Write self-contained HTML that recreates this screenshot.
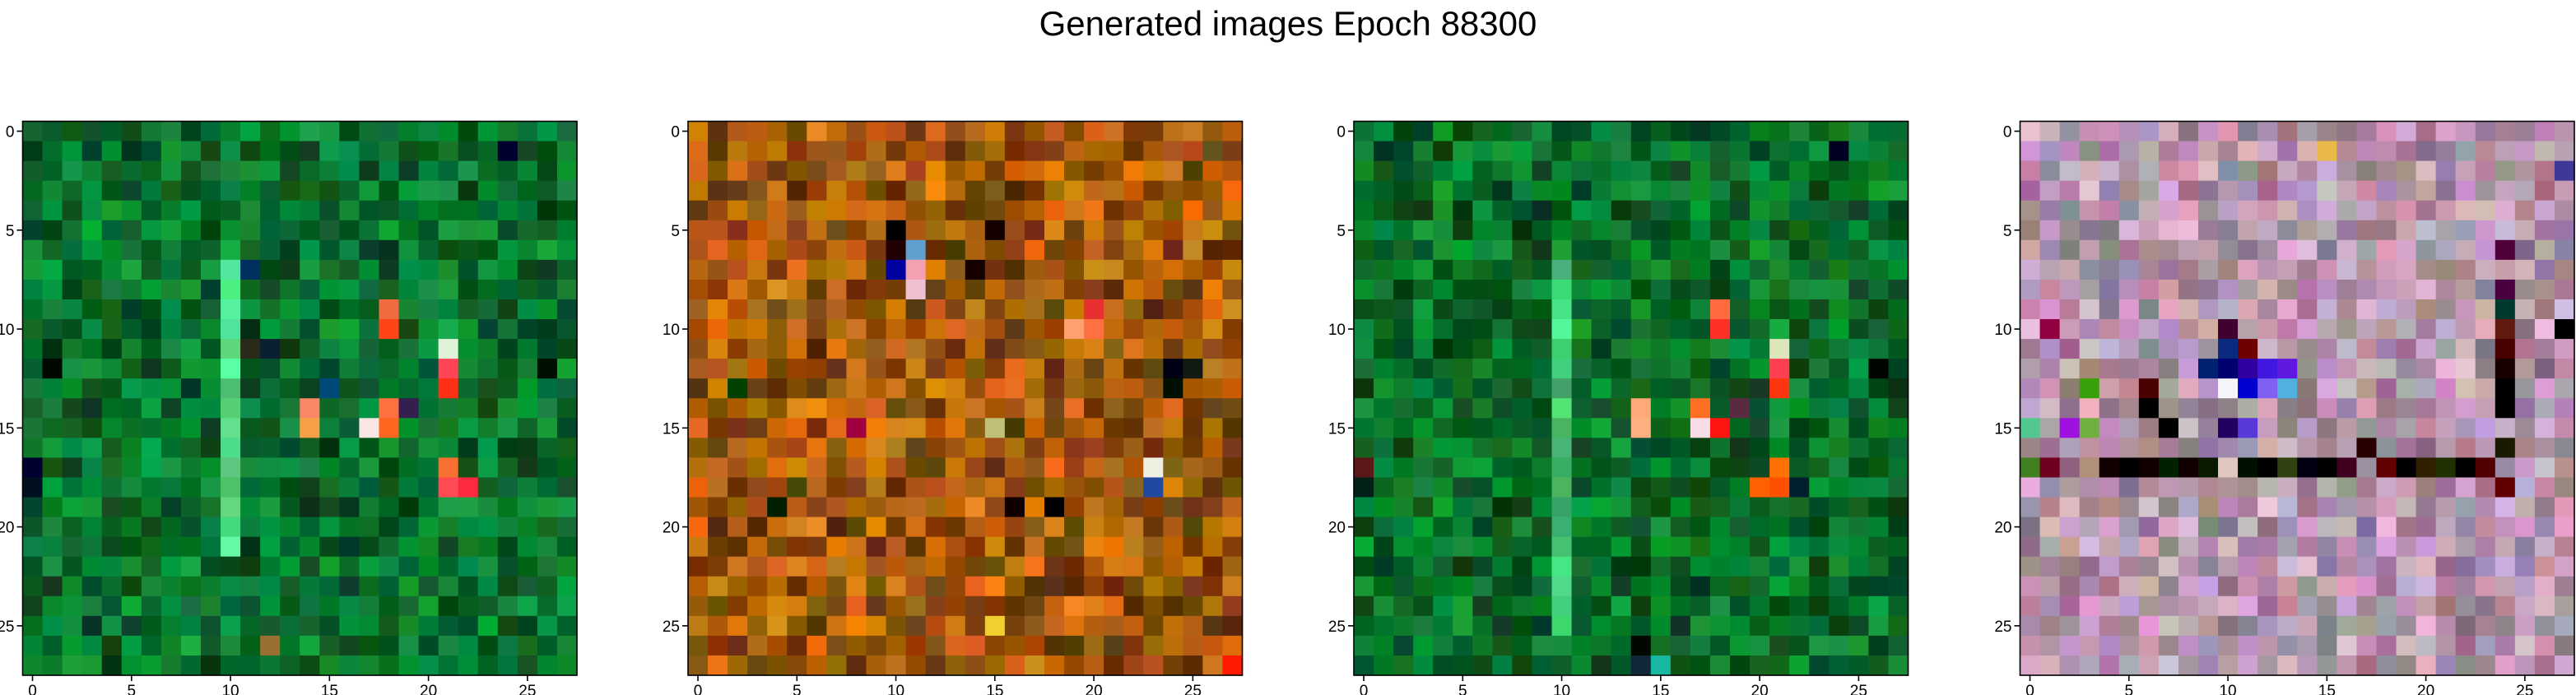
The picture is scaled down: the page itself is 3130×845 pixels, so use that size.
<!DOCTYPE html>
<html><head><meta charset="utf-8">
<style>
html,body{margin:0;padding:0;background:#fff;width:3130px;height:845px;overflow:hidden;}
svg{display:block;font-family:"Liberation Sans","DejaVu Sans",sans-serif;}
</style></head>
<body>
<svg id="chart" width="3130" height="845" viewBox="0 0 3130 845" xmlns="http://www.w3.org/2000/svg">
<text x="1565" y="32" font-size="42" text-anchor="middle" dominant-baseline="middle" fill="#000">Generated images Epoch 88300</text>
</svg>
<script>
// ---- data ----
const gridSize = 28;
const tickValues = [0, 5, 10, 15, 20, 25];
const panelNames = ['image-1', 'image-2', 'image-3', 'image-4'];
const panelBaseColors = [[10, 112, 45], [160, 88, 12], [10, 108, 40], [180, 148, 172]];
const panelVariation = [45, 55, 45, 60];
const stripeColumns = [10, -1, 10, -1];
const stripeBase = [[80, 210, 130], [0, 0, 0], [70, 200, 120], [0, 0, 0]];
const stripeRows = [[7, 21], [0, -1], [7, 25], [0, -1]];
const featureCells1 = [[9,18,'#f26a40'],[10,18,'#ff4515'],[11,21,'#e0f3d8'],[12,21,'#ff4455'],[13,21,'#ff3015'],[14,14,'#f88866'],[14,18,'#ff7040'],[15,14,'#f8a048'],[15,17,'#f8e6e2'],[15,18,'#ff6620'],[17,21,'#f87030'],[18,21,'#ff4a55'],[18,22,'#ff2a40'],[17,0,'#000030'],[18,0,'#001020'],[12,1,'#000800'],[1,24,'#000030'],[7,11,'#003060'],[13,15,'#004a7a'],[12,26,'#001000'],[26,12,'#9a7030'],[14,19,'#351e50'],[11,1,'#00300f'],[11,11,'#2a2a1a'],[11,12,'#0a2030']];
const featureCells2 = [[5,10,'#000000'],[6,10,'#200000'],[7,10,'#0000a0'],[7,11,'#f5a0b0'],[6,11,'#60a0d0'],[8,11,'#f0c0d0'],[5,15,'#150000'],[7,14,'#150000'],[17,23,'#f0f0e0'],[18,23,'#2048a0'],[12,24,'#000015'],[12,25,'#101a10'],[13,24,'#001000'],[19,4,'#002000'],[19,16,'#100000'],[19,18,'#000000'],[10,19,'#ffa070'],[10,20,'#ff7040'],[9,20,'#e83030'],[25,15,'#f0d030'],[27,27,'#ff1a00'],[13,2,'#004000'],[15,8,'#a00040'],[15,15,'#c0c078']];
const featureCells3 = [[9,18,'#ff6a40'],[10,18,'#ff3025'],[11,21,'#dde6bb'],[12,21,'#ff4050'],[13,21,'#ff3510'],[14,14,'#ffa878'],[14,17,'#ff7025'],[15,14,'#ffb080'],[15,17,'#f9dde6'],[15,18,'#ff1510'],[17,21,'#ff7000'],[18,21,'#ff5000'],[18,20,'#ff6000'],[18,22,'#002030'],[1,24,'#000020'],[12,26,'#000500'],[17,0,'#5a1818'],[18,0,'#002018'],[14,19,'#5a2a40'],[27,15,'#18b8a0'],[27,14,'#102838'],[26,14,'#000800']];
const featureCells4 = [[12,9,'#002070'],[12,10,'#000070'],[12,11,'#3000a0'],[12,12,'#4018e0'],[12,13,'#6018e0'],[13,10,'#f5f5fa'],[13,11,'#0000d0'],[13,12,'#8060f0'],[13,13,'#50b0e0'],[13,6,'#4a0000'],[14,6,'#000000'],[15,7,'#000000'],[13,24,'#000000'],[14,24,'#000000'],[10,27,'#000000'],[15,3,'#70b040'],[15,0,'#50c890'],[11,10,'#0a2a80'],[11,11,'#700000'],[10,1,'#900040'],[10,10,'#400030'],[1,15,'#e8b848'],[2,27,'#403898'],[15,2,'#a010e0'],[15,10,'#200060'],[15,11,'#5838d8'],[13,3,'#38a008'],
[17,0,'#408020'],[17,1,'#700020'],[17,2,'#906080'],[17,3,'#b09078'],[17,4,'#100000'],[17,5,'#000000'],[17,6,'#100000'],[17,7,'#002000'],[17,8,'#100000'],[17,9,'#0a1a00'],[17,10,'#e0c8c0'],[17,11,'#001000'],[17,12,'#000000'],[17,13,'#304010'],[17,14,'#000010'],[17,15,'#000000'],[17,16,'#400020'],[17,17,'#9a90a0'],[17,18,'#600000'],[17,19,'#000000'],[17,20,'#302000'],[17,21,'#203000'],[17,22,'#000000'],[17,23,'#500000'],[16,17,'#280000'],[16,24,'#1a1a00'],[18,24,'#600000'],[12,24,'#180000'],[11,24,'#480000'],[10,24,'#601a10'],[9,24,'#003830'],[6,24,'#500038'],[8,24,'#480040']];
const featureCells = [featureCells1, featureCells2, featureCells3, featureCells4];

// ---- layout ----
const panelLeft = [27.5, 836, 1645, 2454.5];
const panelTop = 147.5;
const panelSize = 673.5;
const NS = 'http://www.w3.org/2000/svg';
const svg = document.getElementById('chart');

function texture(p, r, c, k) {
  const v = Math.sin((p + 1) * 127.1 + r * 311.7 + c * 74.7 + k * 19.19) * 43758.5453;
  return v - Math.floor(v);
}
function mk(tag, attrs) {
  const e = document.createElementNS(NS, tag);
  for (const k in attrs) e.setAttribute(k, attrs[k]);
  return e;
}
function clamp(v) { return Math.max(0, Math.min(255, Math.round(v))); }

panelNames.forEach((name, p) => {
  const cell = panelSize / gridSize;
  const xScale = v => panelLeft[p] + (v + 0.5) * cell;
  const yScale = v => panelTop + (v + 0.5) * cell;
  const g = mk('g', {});
  
  
  svg.appendChild(g);
  const amp = panelVariation[p];
  const fmap = {};
  featureCells[p].forEach(f => { fmap[f[0] + ',' + f[1]] = f[2]; });
  for (let r = 0; r < gridSize; r++) {
    for (let c = 0; c < gridSize; c++) {
      let col;
      const key = r + ',' + c;
      let base = panelBaseColors[p], sc = p === 3 ? 0.45 : 0.9;
      if (c === stripeColumns[p] && r >= stripeRows[p][0] && r <= stripeRows[p][1]) { base = stripeBase[p]; sc = 0.4; }
      if (fmap[key]) col = fmap[key];
      else {
        const t = texture(p, r, c, 0) - 0.5;
        const dr = (texture(p, r, c, 1) - 0.5) * amp * 0.8;
        const dg = (texture(p, r, c, 2) - 0.5) * amp * 0.8;
        const db = (texture(p, r, c, 3) - 0.5) * amp * 0.8;
        const s = 1 + t * sc;
        col = 'rgb(' + clamp(base[0] * s + dr) + ',' + clamp(base[1] * s + dg) + ',' + clamp(base[2] * s + db) + ')';
      }
      const rect = mk('rect', { x: (xScale(c) - cell / 2).toFixed(2), y: (yScale(r) - cell / 2).toFixed(2), width: (cell + 0.6).toFixed(2), height: (cell + 0.6).toFixed(2), fill: col });
      
      
      g.appendChild(rect);
    }
  }
  const frame = mk('rect', { x: panelLeft[p], y: panelTop, width: panelSize, height: panelSize, fill: 'none', stroke: '#000', 'stroke-width': 1.6 });
  
  
  g.appendChild(frame);
  tickValues.forEach(v => {
    const x = xScale(v), y = yScale(v), bottom = panelTop + panelSize;
    const xt = mk('line', { x1: x, x2: x, y1: bottom, y2: bottom + 7, stroke: '#000', 'stroke-width': 1.6 });
    
    
    g.appendChild(xt);
    const xl = mk('text', { x: x, y: bottom + 25, 'font-size': 19, 'text-anchor': 'middle', fill: '#000' });
    xl.textContent = v;
    
    
    g.appendChild(xl);
    const yt = mk('line', { x1: panelLeft[p] - 7, x2: panelLeft[p], y1: y, y2: y, stroke: '#000', 'stroke-width': 1.6 });
    
    
    g.appendChild(yt);
    const yl = mk('text', { x: panelLeft[p] - 10, y: y + 7, 'font-size': 19, 'text-anchor': 'end', fill: '#000' });
    yl.textContent = v;
    
    
    g.appendChild(yl);
  });
});
</script>
</body></html>
